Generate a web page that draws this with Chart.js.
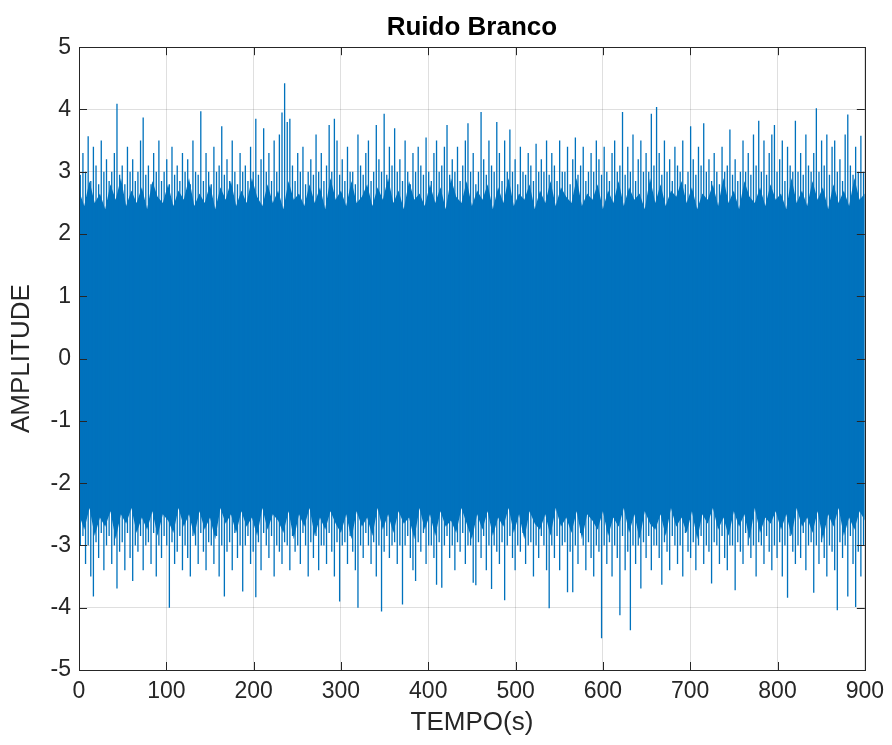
<!DOCTYPE html>
<html>
<head>
<meta charset="utf-8">
<script src="https://cdn.jsdelivr.net/npm/chart.js@4.4.1/dist/chart.umd.min.js"></script>
<style>
  html, body { margin: 0; background: #fff; }
  #wrap { width: 892px; height: 745px; }
</style>
</head>
<body>
<div id="wrap"><canvas id="grafico" width="892" height="745"></canvas></div>
<script>
const titulo = "Ruido Branco"
const rotuloX = "TEMPO(s)"
const rotuloY = "AMPLITUDE"
const ticksX = [0, 100, 200, 300, 400, 500, 600, 700, 800, 900]
const ticksY = [-5, -4, -3, -2, -1, 0, 1, 2, 3, 4, 5]

// largura (s) de cada intervalo em que se leu o máximo e o mínimo do sinal
const passo = 3

// máximo do sinal em cada intervalo de 3 s (0-3, 3-6, ... 897-900)
const maxBloco = [
  2.95, 3.3, 3.0, 3.57, 2.85, 3.4, 3.1, 2.8, 3.5, 3.0, 3.2, 2.85, 3.0, 3.3, 4.09, 2.95, 3.1, 2.8, 3.4, 3.0,
  3.2, 2.85, 3.0, 3.5, 3.87, 2.95, 3.1, 2.8, 3.3, 3.0, 3.5, 2.85, 3.0, 3.2, 2.8, 3.4, 2.95, 3.1, 2.85, 3.3,
  3.0, 3.2, 2.8, 3.5, 3.0, 2.95, 3.97, 2.85, 3.3, 3.0, 2.8, 3.4, 3.0, 3.1, 3.73, 2.95, 3.2, 2.85, 3.5, 3.0,
  2.8, 3.3, 3.0, 3.1, 2.85, 3.4, 3.0, 3.85, 2.95, 3.2, 3.7, 3.0, 3.3, 2.85, 3.5, 3.0, 3.6, 3.95, 4.42, 3.8,
  3.85, 3.1, 2.85, 3.3, 3.0, 3.4, 2.8, 3.0, 3.2, 2.95, 3.6, 3.0, 3.3, 2.85, 3.1, 3.75, 3.0, 3.85, 3.5, 2.95,
  3.2, 2.85, 3.4, 3.0, 3.0, 2.8, 3.6, 3.1, 2.95, 3.3, 3.5, 2.85, 3.0, 3.75, 3.2, 3.0, 3.93, 2.95, 3.4, 3.1,
  3.7, 3.0, 3.2, 2.85, 3.5, 3.0, 2.8, 3.3, 3.0, 3.4, 3.1, 2.95, 3.55, 3.0, 2.85, 3.3, 3.5, 3.0, 3.1, 3.4,
  3.75, 2.95, 3.2, 3.0, 3.4, 2.85, 3.1, 3.5, 3.78, 3.0, 3.3, 2.8, 3.0, 3.96, 3.2, 2.95, 3.5, 3.1, 3.0, 3.8,
  3.3, 2.85, 3.5, 3.0, 3.68, 3.0, 3.2, 2.8, 3.4, 3.0, 2.95, 3.3, 3.1, 2.85, 3.45, 3.0, 3.2, 3.0, 3.5, 2.95,
  3.3, 3.1, 2.85, 3.5, 3.0, 3.0, 3.4, 2.8, 3.2, 3.55, 2.95, 3.1, 3.4, 2.85, 3.0, 3.3, 3.0, 3.5, 3.2, 2.95,
  3.4, 3.0, 2.85, 3.3, 3.5, 3.0, 3.1, 3.96, 2.95, 3.4, 3.0, 3.6, 2.85, 3.2, 3.5, 3.0, 3.3, 3.0, 3.93, 3.1,
  4.04, 3.3, 2.95, 3.5, 3.0, 3.2, 2.85, 3.4, 3.1, 3.0, 3.5, 2.8, 3.0, 3.73, 3.2, 2.95, 3.4, 3.1, 3.78, 3.0,
  3.2, 2.85, 3.3, 3.0, 2.8, 3.4, 3.0, 3.1, 3.68, 2.95, 3.2, 2.85, 3.0, 3.5, 3.0, 3.3, 2.95, 3.6, 3.1, 3.82,
  3.0, 3.5, 2.95, 3.3, 3.6, 3.75, 3.0, 3.2, 3.5, 2.85, 3.4, 3.1, 3.0, 3.82, 3.0, 3.3, 2.95, 3.6, 3.1, 3.0,
  3.3, 4.02, 3.0, 3.5, 3.1, 3.6, 2.95, 3.4, 3.5, 3.0, 3.2, 2.85, 3.6, 3.92, 3.1, 2.95, 3.4, 3.0, 3.58, 3.0,
]

// mínimo do sinal nos mesmos intervalos
const minBloco = [
  -3.0, -2.85, -3.3, -3.0, -3.5, -3.82, -2.95, -3.2, -2.8, -3.4, -3.0, -2.85, -3.3, -3.0, -3.69, -3.1, -2.95, -3.4, -2.8, -3.2,
  -3.57, -3.0, -3.1, -2.85, -3.4, -3.0, -2.95, -3.3, -2.8, -3.5, -3.0, -3.2, -2.85, -3.0, -4.0, -2.95, -3.3, -3.1, -2.85, -3.4,
  -3.0, -3.2, -3.5, -2.85, -3.0, -3.3, -2.8, -3.1, -3.4, -2.95, -3.0, -3.3, -2.85, -3.5, -3.0, -3.82, -3.1, -2.95, -3.4, -2.8,
  -3.2, -3.0, -3.74, -3.0, -2.85, -3.3, -3.1, -3.83, -2.95, -3.4, -2.8, -3.0, -3.2, -2.85, -3.5, -3.0, -3.1, -3.3, -2.95, -3.0,
  -3.4, -2.85, -3.1, -3.0, -3.3, -2.8, -3.0, -3.5, -2.95, -3.2, -2.85, -3.4, -3.0, -3.0, -3.3, -2.8, -3.1, -3.5, -2.95, -3.9,
  -3.0, -2.95, -3.3, -2.85, -3.1, -3.4, -4.0, -3.0, -3.2, -2.8, -3.0, -3.3, -2.95, -3.5, -3.0, -4.06, -3.1, -2.85, -3.2, -3.0,
  -2.95, -3.3, -3.0, -3.95, -3.0, -2.85, -3.2, -3.4, -3.57, -2.95, -3.1, -2.8, -3.3, -3.0, -3.0, -3.2, -3.63, -2.95, -3.68, -3.0,
  -2.85, -3.2, -3.0, -3.4, -2.95, -3.1, -2.8, -3.3, -3.0, -3.0, -3.6, -3.64, -2.95, -3.2, -2.85, -3.4, -3.0, -3.7, -3.0, -3.1,
  -3.3, -2.95, -3.88, -3.0, -2.85, -3.2, -3.4, -3.0, -3.1, -2.8, -3.3, -3.0, -2.95, -3.5, -3.0, -3.2, -2.85, -3.0, -3.4, -4.01,
  -3.0, -3.2, -2.85, -3.4, -3.0, -2.95, -3.75, -3.1, -3.75, -3.0, -3.3, -2.8, -3.0, -3.4, -2.95, -3.2, -3.5, -3.0, -3.1, -4.49,
  -3.0, -3.3, -2.95, -3.5, -3.0, -3.2, -4.12, -2.85, -3.4, -3.1, -4.36, -3.0, -3.3, -3.0, -3.69, -2.95, -3.2, -2.85, -3.4, -3.0,
  -3.0, -3.2, -3.63, -2.95, -3.1, -3.4, -2.85, -3.0, -3.3, -3.0, -3.5, -2.8, -3.1, -3.2, -2.95, -3.4, -3.0, -2.85, -3.3, -3.0,
  -3.1, -3.61, -2.95, -3.0, -3.3, -2.85, -3.2, -3.4, -3.0, -3.0, -3.72, -2.95, -3.1, -3.3, -2.8, -3.0, -3.2, -3.0, -3.5, -2.95,
  -3.0, -3.3, -2.85, -3.1, -3.4, -3.0, -3.2, -2.95, -3.5, -3.0, -3.84, -2.85, -3.1, -3.3, -3.0, -3.2, -2.8, -3.4, -3.0, -2.95,
  -3.76, -3.0, -3.3, -2.95, -3.2, -3.5, -3.0, -3.1, -3.4, -4.04, -2.95, -3.2, -3.0, -3.82, -2.85, -3.3, -3.99, -3.1, -3.5, -3.0,
]

// borda da faixa sólida (onde o traço cobre tudo), a cada 6 s
const passoNucleo = 6
const nucleoSup = [
  2.7, 2.45, 2.85, 2.5, 2.65, 2.4, 2.8, 2.55, 2.9, 2.45, 2.7, 2.5, 2.75, 2.4, 2.85, 2.6, 2.5, 2.8, 2.45, 2.7,
  2.55, 2.9, 2.45, 2.65, 2.5, 2.8, 2.4, 2.75, 2.55, 2.85, 2.45, 2.7, 2.5, 2.9, 2.6, 2.45, 2.8, 2.5, 2.7, 2.4,
  2.85, 2.55, 2.65, 2.45, 2.8, 2.5, 2.75, 2.4, 2.9, 2.55, 2.7, 2.45, 2.85, 2.5, 2.6, 2.8, 2.45, 2.75, 2.55, 2.9,
  2.5, 2.7, 2.4, 2.85, 2.55, 2.65, 2.45, 2.8, 2.5, 2.75, 2.4, 2.9, 2.6, 2.5, 2.85, 2.45, 2.7, 2.55, 2.8, 2.4,
  2.75, 2.5, 2.9, 2.45, 2.65, 2.55, 2.8, 2.4, 2.7, 2.5, 2.85, 2.45, 2.75, 2.6, 2.5, 2.9, 2.45, 2.65, 2.55, 2.8,
  2.4, 2.7, 2.5, 2.85, 2.45, 2.75, 2.55, 2.65, 2.4, 2.9, 2.5, 2.8, 2.45, 2.7, 2.6, 2.85, 2.5, 2.75, 2.4, 2.65,
  2.55, 2.8, 2.45, 2.9, 2.5, 2.7, 2.4, 2.85, 2.6, 2.5, 2.75, 2.45, 2.8, 2.55, 2.65, 2.4, 2.9, 2.5, 2.7, 2.45,
  2.85, 2.55, 2.75, 2.4, 2.8, 2.5, 2.7, 2.45, 2.9, 2.55, 2.65,
]
const nucleoInf = [
  -2.5, -2.75, -2.4, -2.85, -2.55, -2.7, -2.45, -2.9, -2.5, -2.65, -2.4, -2.8, -2.55, -2.75, -2.45, -2.85, -2.5, -2.6, -2.8, -2.4,
  -2.7, -2.5, -2.85, -2.45, -2.75, -2.55, -2.9, -2.4, -2.65, -2.5, -2.8, -2.45, -2.7, -2.55, -2.85, -2.4, -2.75, -2.5, -2.6, -2.8,
  -2.45, -2.9, -2.5, -2.7, -2.4, -2.85, -2.55, -2.75, -2.45, -2.65, -2.8, -2.5, -2.9, -2.45, -2.7, -2.55, -2.85, -2.4, -2.75, -2.5,
  -2.8, -2.45, -2.65, -2.55, -2.9, -2.4, -2.75, -2.5, -2.85, -2.45, -2.7, -2.6, -2.8, -2.4, -2.65, -2.9, -2.5, -2.75, -2.45, -2.85,
  -2.55, -2.7, -2.4, -2.8, -2.5, -2.9, -2.45, -2.65, -2.75, -2.5, -2.85, -2.4, -2.7, -2.55, -2.8, -2.45, -2.9, -2.5, -2.6, -2.75,
  -2.45, -2.85, -2.55, -2.7, -2.4, -2.8, -2.5, -2.9, -2.45, -2.65, -2.75, -2.5, -2.85, -2.4, -2.7, -2.55, -2.8, -2.45, -2.9, -2.5,
  -2.65, -2.4, -2.75, -2.55, -2.85, -2.45, -2.7, -2.5, -2.9, -2.4, -2.8, -2.55, -2.65, -2.45, -2.75, -2.5, -2.85, -2.4, -2.7, -2.55,
  -2.8, -2.45, -2.9, -2.5, -2.7, -2.4, -2.85, -2.55, -2.75, -2.45, -2.6,
]

const azul = "#0072BD"
const cinzaEixo = "#262626"

// cada intervalo vira um traço vertical fino do mínimo ao máximo
const tracos = maxBloco.map((v, k) => ({ x: k * passo + passo / 2, y: [minBloco[k], v] }))
const bordaSup = nucleoSup.map((v, i) => ({ x: i * passoNucleo, y: v }))
const bordaInf = nucleoInf.map((v, i) => ({ x: i * passoNucleo, y: v }))

// caixa do eixo e marcas para dentro, como no MATLAB
const caixaPlugin = {
  id: "caixa",
  afterDraw(chart) {
    const { ctx, chartArea: a, scales } = chart
    const tam = 8
    ctx.save()
    ctx.strokeStyle = cinzaEixo
    ctx.lineWidth = 1
    ctx.beginPath()
    ticksX.forEach((v) => {
      const x = Math.round(scales.x.getPixelForValue(v)) + 0.5
      ctx.moveTo(x, a.bottom)
      ctx.lineTo(x, a.bottom - tam)
      ctx.moveTo(x, a.top)
      ctx.lineTo(x, a.top + tam)
    })
    ticksY.forEach((v) => {
      const y = Math.round(scales.y.getPixelForValue(v)) + 0.5
      ctx.moveTo(a.left, y)
      ctx.lineTo(a.left + tam, y)
      ctx.moveTo(a.right, y)
      ctx.lineTo(a.right - tam, y)
    })
    ctx.stroke()
    ctx.strokeRect(Math.round(a.left) + 0.5, Math.round(a.top) + 0.5, Math.round(a.right - a.left), Math.round(a.bottom - a.top))
    ctx.restore()
  },
}

const fonte = "'Liberation Sans', Arial, Helvetica, sans-serif"

new Chart(document.getElementById("grafico"), {
  type: "bar",
  data: {
    datasets: [
      {
        label: "sinal",
        data: tracos,
        backgroundColor: azul,
        borderWidth: 0,
        borderSkipped: false,
        barPercentage: 0.5,
        categoryPercentage: 1,
        grouped: false,
      },
      {
        type: "line",
        label: "bordaSup",
        data: bordaSup,
        borderWidth: 0,
        borderColor: azul,
        backgroundColor: azul,
        pointRadius: 0,
        tension: 0,
        fill: "+1",
      },
      {
        type: "line",
        label: "bordaInf",
        data: bordaInf,
        borderWidth: 0,
        borderColor: azul,
        pointRadius: 0,
        tension: 0,
        fill: false,
      },
    ],
  },
  options: {
    responsive: false,
    animation: false,
    devicePixelRatio: 1,
    layout: { padding: { left: 0, right: 8, top: 0, bottom: 0 } },
    plugins: {
      legend: { display: false },
      tooltip: { enabled: false },
      title: {
        display: true,
        fullSize: false,
        text: titulo,
        color: "#000",
        font: { family: fonte, size: 26, weight: "bold" },
        padding: { top: 12, bottom: 4 },
      },
    },
    scales: {
      x: {
        type: "linear",
        min: 0,
        max: 900,
        offset: false,
        afterBuildTicks: (s) => { s.ticks = ticksX.map((v) => ({ value: v })) },
        afterFit: (s) => { s.height = 75 },
        ticks: { color: cinzaEixo, font: { family: fonte, size: 23 }, padding: 8, maxRotation: 0, autoSkip: false },
        grid: { color: "rgba(38,38,38,0.15)", drawTicks: false, offset: false },
        border: { display: false },
        title: { display: true, text: rotuloX, color: cinzaEixo, font: { family: fonte, size: 26 }, padding: { top: 0, bottom: 7 } },
      },
      y: {
        type: "linear",
        min: -5,
        max: 5,
        afterBuildTicks: (s) => { s.ticks = ticksY.map((v) => ({ value: v })) },
        afterFit: (s) => { s.width = 79 },
        ticks: { color: cinzaEixo, font: { family: fonte, size: 23 }, padding: 8, autoSkip: false },
        grid: { color: "rgba(38,38,38,0.15)", drawTicks: false },
        border: { display: false },
        title: { display: true, text: rotuloY, color: cinzaEixo, font: { family: fonte, size: 26 }, padding: { top: 6, bottom: 2 } },
      },
    },
  },
  plugins: [caixaPlugin],
})
</script>
</body>
</html>
